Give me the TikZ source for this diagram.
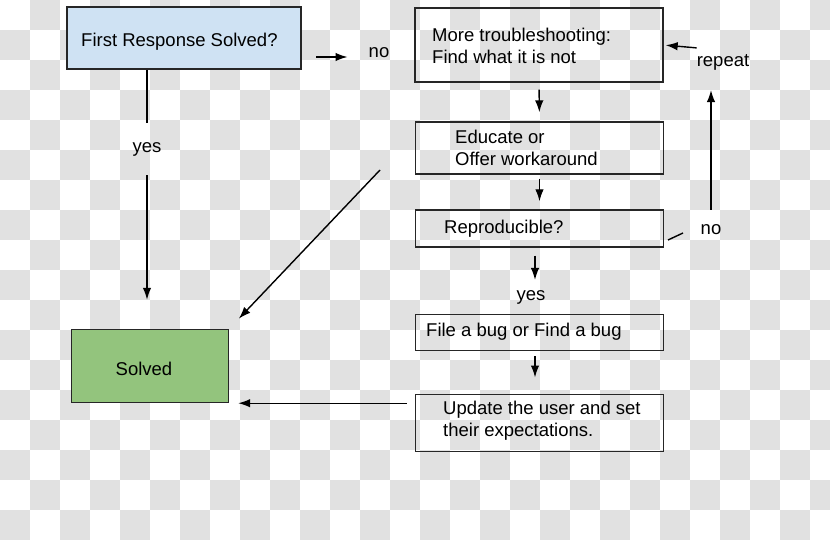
\documentclass[tikz,border=0pt]{standalone}
\usepackage{fontspec}
\setmainfont{Liberation Sans}
\usetikzlibrary{arrows.meta}
\definecolor{checkgray}{RGB}{225,225,225}
\definecolor{askblue}{HTML}{CFE2F3}
\definecolor{donegreen}{HTML}{93C47D}
\tikzset{
  box/.style={draw=black!85,line width=1.4pt,minimum width=248pt,inner sep=0pt},
  txt/.style={anchor=west,align=left,inner sep=0pt,font=\fontsize{18.5}{22}\selectfont},
  lbl/.style={inner sep=0pt,font=\fontsize{18.5}{22}\selectfont},
  arr/.style={line width=1.4pt,-{Latex[length=12pt,width=8.5pt]}}
}
\begin{document}
\begin{tikzpicture}[x=1pt,y=-1pt]
  \useasboundingbox (0,0) rectangle (830,540);
  \fill [white] (0,0) rectangle (830,540);
  \begin{scope}
    \clip (0,0) rectangle (830,540);
    \foreach \j in {0,...,17} {
      \pgfmathsetmacro\off{30*(1-mod(\j,2))}
      \foreach \k in {0,...,13}
      \fill [checkgray] (60*\k+\off,30*\j) rectangle ++(30,30);
    }
  \end{scope}
  \node [box,fill=askblue,minimum width=234pt,minimum height=62pt] (first) at (184,38) {};
  \node [box,minimum height=74pt] (more) at (539,45) {};
  \node [box,minimum height=52pt] (educ) at (539.5,148) {};
  \node [box,minimum height=37pt] (repro) at (539.5,228.5) {};
  \node [box,minimum height=36pt] (bug) at (539.5,332.5) {};
  \node [box,minimum height=57pt] (update) at (539.5,422.7) {};
  \node [box,fill=donegreen,minimum width=157pt,minimum height=73pt] (solved) at (150,366) {};
  \node [txt] (firstText) at (81,42) {First Response Solved?};
  \node [txt] (moreText) at (432,45.5) {More troubleshooting:\\Find what it is not};
  \node [txt] (educText) at (455,148) {Educate or\\Offer workaround};
  \node [txt] (reproText) at (444,228.7) {Reproducible?};
  \node [txt] (bugText) at (426,331.3) {File a bug or Find a bug};
  \node [txt] (updateText) at (443,421) {Update the user and set\\their expectations.};
  \node [txt] (solvedText) at (115.5,369.3) {Solved};
  \node [lbl] (noFirst) at (379,53) {no};
  \node [lbl] (yesFirst) at (147,149) {yes};
  \node [lbl] (yesRepro) at (531,297) {yes};
  \node [lbl] (noRepro) at (711,230) {no};
  \node [lbl] (repeat) at (723,62) {repeat};
  % no / yes out of the first question
  \coordinate (noTail) at (316,57);
  \draw [arr,shorten >=21pt] (noTail) to (noTail -| noFirst.west);
  \draw [line width=1.4pt,shorten >=19pt] (first.south -| yesFirst) to (yesFirst.north);
  \draw [arr,shorten <=19pt,shorten >=29pt] (yesFirst.south) to (yesFirst.south |- solved.north);
  \coordinate (diagTail) at (380,170);
  \draw [arr,shorten >=14pt] (diagTail) to (solved.north east);
  % right column
  \draw [arr,shorten <=7pt,shorten >=9pt] (more.south) to (educ.north);
  \draw [arr,shorten <=4pt,shorten >=8pt] (educ.south) to (repro.north);
  \draw [arr,shorten <=8pt,shorten >=10pt] ([xshift=-4.5pt]repro.south) to ([xshift=-4.5pt]repro.south |- yesRepro.north);
  \draw [arr,shorten <=5pt,shorten >=16pt] ([xshift=-4.5pt]bug.south) to ([xshift=-4.5pt]bug.south |- update.north);
  \draw [arr,shorten <=8pt,shorten >=9pt] (update.west |- solved.south east) to (solved.south east);
  % repeat loop
  \coordinate (tickA) at (668,240);
  \coordinate (tickB) at (683,233);
  \draw [line width=1.4pt] (tickA) to (tickB);
  \draw [arr,shorten <=15pt,shorten >=20pt] (noRepro.north) to (noRepro.north |- repeat.south);
  \draw [arr,shorten >=2pt] ([yshift=6pt]repeat.north west) to (more.east);
\end{tikzpicture}
\end{document}
